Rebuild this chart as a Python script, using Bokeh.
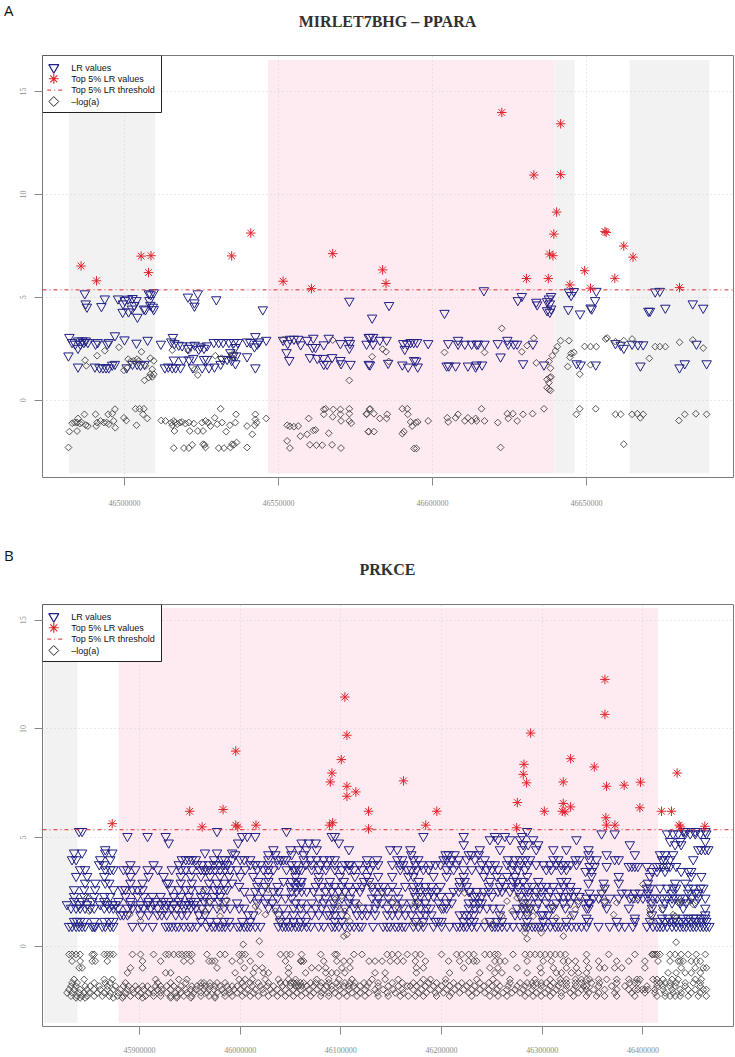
import numpy as np
from bokeh.plotting import figure
from bokeh.models import Span, FixedTicker, BasicTickFormatter, Range1d, Div
from bokeh.layouts import column
from bokeh.embed import file_html
from bokeh.resources import INLINE
from bokeh.core.properties import value

# ---------------------------------------------------------------- data (positions in kb)
# Panel A : MIRLET7BHG - PPARA
A_title = "MIRLET7BHG \u2013 PPARA"
A_xticks = [46500000, 46550000, 46600000, 46650000]
A_threshold = 5.36
A_grey_regions = [(46482.0, 46510.0), (46639.6, 46646.1), (46664.0, 46689.9)]
A_pink_regions = [(46546.6, 46639.6)]
A_shade_y = (-3.55, 16.53)

A_top = [(46485.9, 6.52), (46490.9, 5.80), (46505.4, 7.00), (46508.6, 7.02), (46507.8, 6.20),
         (46534.8, 7.01), (46541.0, 8.12), (46551.5, 5.78), (46560.7, 5.42), (46567.6, 7.12),
         (46583.8, 6.33), (46584.9, 5.67), (46622.5, 13.98), (46630.5, 5.91), (46632.9, 10.94),
         (46637.6, 5.91), (46638.0, 7.10), (46639.1, 7.02), (46639.4, 8.07), (46640.3, 9.14),
         (46641.6, 10.96), (46641.6, 13.43), (46644.6, 5.60), (46649.4, 6.29), (46651.3, 5.44),
         (46656.0, 8.20), (46656.4, 8.15), (46659.2, 5.92), (46662.1, 7.49), (46665.1, 6.95),
         (46680.2, 5.47)]

A_lr = [
    # upper values
    (46487.1, 5.18), (46487.4, 4.69), (46487.8, 4.53), (46492.5, 4.56), (46493.6, 4.93),
    (46497.9, 4.93), (46499.5, 4.69), (46500.1, 4.85), (46501.1, 4.92), (46502.6, 4.95),
    (46503.9, 4.85), (46499.4, 4.28), (46501.3, 4.30), (46502.4, 4.44), (46503.2, 4.61),
    (46504.2, 4.04), (46506.3, 4.44), (46506.8, 4.40), (46507.9, 5.18), (46508.5, 5.13),
    (46509.5, 5.23), (46508.1, 4.85), (46508.4, 4.62), (46509.2, 4.53), (46509.5, 4.41),
    (46520.6, 5.02), (46523.8, 5.18), (46522.7, 4.74), (46522.7, 4.58), (46529.8, 4.89),
    (46544.9, 4.40), (46573.0, 4.82), (46580.4, 4.00), (46585.9, 4.61), (46603.9, 4.23),
    (46616.7, 5.33), (46627.7, 4.85), (46629.0, 5.05), (46633.7, 4.77), (46634.0, 4.64),
    (46637.2, 4.80), (46637.8, 4.93), (46638.5, 5.05), (46638.1, 4.69), (46637.2, 4.36),
    (46638.1, 4.28), (46638.5, 4.44), (46644.1, 4.41), (46644.3, 5.26), (46645.0, 5.10),
    (46645.9, 5.29), (46647.9, 4.20), (46651.3, 4.49), (46651.7, 4.44), (46652.8, 4.85),
    (46653.2, 5.30), (46670.1, 4.33), (46670.6, 4.33), (46672.3, 5.27), (46673.8, 5.30),
    (46675.6, 4.48), (46684.5, 4.69), (46687.9, 4.48),
    # middle band
    (46482.1, 3.06), (46483.0, 2.81), (46484.0, 2.73), (46485.0, 2.89), (46484.9, 2.53),
    (46485.7, 2.73), (46486.3, 2.89), (46486.8, 2.81), (46487.4, 2.89), (46488.1, 2.81),
    (46490.6, 2.73), (46491.3, 2.81), (46494.4, 2.73), (46494.9, 2.81), (46496.9, 3.14),
    (46500.0, 2.94), (46503.9, 2.78), (46507.5, 2.92), (46481.8, 2.16),
    (46511.8, 2.73), (46515.7, 3.06), (46515.2, 2.84), (46516.2, 2.76), (46517.6, 2.68),
    (46518.7, 2.65), (46520.6, 2.53), (46521.4, 2.65), (46522.8, 2.68), (46524.1, 2.48),
    (46524.7, 2.60), (46525.8, 2.53), (46526.8, 2.65), (46529.0, 2.81), (46530.6, 2.81),
    (46532.0, 2.81), (46533.9, 2.81), (46535.5, 2.81), (46536.8, 2.81), (46536.0, 2.57),
    (46534.4, 2.32), (46539.8, 2.84), (46540.9, 2.81), (46542.5, 3.10), (46543.1, 2.73),
    (46542.2, 2.60), (46543.7, 2.84), (46546.0, 2.92), (46539.8, 2.12), (46536.3, 2.16),
    (46535.3, 2.16), (46534.8, 1.94),
    (46551.5, 2.92), (46553.0, 2.76), (46553.7, 2.97), (46555.0, 2.97), (46556.4, 2.97),
    (46557.2, 2.70), (46559.3, 2.92), (46561.3, 3.02), (46561.0, 2.57), (46562.0, 2.57),
    (46564.7, 2.70), (46566.3, 3.02), (46570.1, 2.76), (46572.8, 2.92), (46573.2, 2.76),
    (46573.0, 2.53), (46578.6, 2.73), (46579.3, 3.06), (46552.6, 2.32), (46553.5, 1.94),
    (46579.7, 3.06), (46580.7, 3.06), (46580.7, 2.73), (46582.9, 2.92), (46585.1, 2.92),
    (46590.5, 2.76), (46591.0, 2.48), (46591.8, 2.73), (46592.9, 2.81), (46593.9, 2.81),
    (46595.0, 2.81), (46598.6, 2.76), (46605.1, 2.76), (46608.3, 2.92), (46608.3, 2.73),
    (46610.5, 2.73), (46612.7, 2.73), (46614.3, 2.73), (46614.8, 2.73), (46616.9, 2.73),
    (46621.2, 2.76), (46622.1, 2.11), (46624.3, 2.92), (46624.6, 2.73), (46626.4, 2.73),
    (46627.5, 2.73), (46632.6, 2.73), (46659.4, 2.76), (46661.1, 2.68), (46662.1, 2.53),
    (46664.8, 2.73), (46666.7, 2.70), (46668.4, 2.70), (46685.7, 2.73),
    # lower band
    (46484.9, 1.62), (46490.4, 1.62), (46491.9, 1.58), (46493.0, 1.58), (46494.0, 1.58),
    (46494.9, 1.58), (46496.0, 1.71), (46496.9, 1.75), (46500.7, 1.58), (46502.6, 1.75),
    (46504.1, 1.75), (46505.2, 1.71), (46506.5, 1.75),
    (46513.1, 1.58), (46514.2, 1.62), (46515.5, 1.58), (46516.6, 1.58), (46518.2, 1.58),
    (46516.0, 1.96), (46519.1, 1.96), (46521.0, 1.96), (46522.3, 2.04), (46522.2, 1.58),
    (46525.2, 1.58), (46525.8, 1.99), (46526.8, 1.99), (46527.4, 1.58), (46529.2, 1.62),
    (46531.2, 1.75), (46531.7, 1.99), (46533.3, 1.99), (46536.0, 1.78), (46542.5, 1.58),
    (46560.2, 2.08), (46562.6, 2.04), (46564.5, 2.04), (46567.4, 2.08), (46564.7, 1.75),
    (46565.8, 1.75), (46570.1, 1.94), (46570.3, 1.78), (46573.4, 1.75), (46579.3, 1.75),
    (46579.7, 1.72), (46585.6, 1.80), (46590.2, 1.72), (46592.1, 1.62), (46594.0, 1.94),
    (46594.7, 1.91), (46595.2, 1.62), (46604.6, 1.67), (46605.3, 1.67), (46607.5, 1.67),
    (46611.5, 1.67), (46614.0, 1.62), (46614.3, 1.72), (46616.1, 1.72), (46629.4, 1.78),
    (46636.2, 1.72), (46646.8, 1.78), (46648.1, 1.72), (46653.0, 1.72), (46667.5, 1.67),
    (46680.2, 1.58), (46681.9, 1.78), (46689.0, 1.78)]

A_loga = [
    (46487.2, 1.94), (46487.6, 1.67), (46491.1, 2.16), (46493.6, 2.40), (46498.2, 2.57),
    (46501.2, 1.99), (46502.0, 1.88), (46499.8, 1.45), (46500.9, 1.58), (46503.0, 1.91),
    (46504.1, 1.99), (46504.7, 1.91), (46505.5, 2.35), (46506.8, 1.67), (46508.4, 2.04),
    (46509.5, 1.91), (46509.0, 1.50), (46508.4, 1.26), (46507.9, 1.10), (46506.5, 0.96),
    (46509.5, 1.26), (46509.0, 1.13), (46515.5, 2.43), (46520.7, 2.40), (46522.8, 1.50),
    (46523.8, 1.22), (46529.5, 2.16), (46531.5, 2.04), (46534.6, 2.11), (46535.2, 2.24),
    (46551.5, 2.94), (46573.0, 0.96), (46567.6, 2.92),
    (46583.8, 2.48), (46584.9, 2.35), (46580.4, 2.11), (46585.8, 1.88), (46603.9, 2.32),
    (46616.9, 2.32), (46622.5, 3.49), (46629.0, 2.35), (46630.7, 2.65), (46632.9, 3.01),
    (46633.7, 1.81), (46637.8, 1.88), (46638.3, 1.55), (46638.9, 2.16), (46639.9, 2.40),
    (46640.5, 2.60), (46641.6, 2.89), (46644.3, 2.89), (46645.0, 2.27), (46645.9, 2.32),
    (46644.6, 2.08), (46643.9, 1.63), (46647.8, 1.26), (46649.4, 2.61), (46651.3, 2.60),
    (46653.2, 2.60), (46651.3, 1.72), (46656.2, 2.97), (46656.7, 3.02), (46659.4, 2.84),
    (46662.1, 2.89), (46664.8, 2.97), (46670.4, 2.03), (46672.3, 2.60), (46673.8, 2.60),
    (46675.6, 2.60), (46680.2, 2.81), (46684.5, 2.92), (46687.9, 2.53), (46637.2, 1.01),
    (46638.1, 1.10), (46638.5, 1.13), (46637.2, 0.60), (46637.8, 0.52), (46638.3, 0.47),
    (46637.8, 0.85),
    (46481.8, -2.30), (46482.1, -1.53), (46483.0, -1.12), (46483.8, -1.09), (46484.6, -1.09),
    (46484.9, -0.89), (46485.5, -1.14), (46486.1, -1.09), (46487.0, -0.69), (46487.4, -1.21),
    (46488.1, -1.26), (46484.6, -1.50), (46490.6, -0.69), (46491.1, -1.09), (46490.8, -1.26),
    (46492.2, -1.01), (46493.3, -1.09), (46494.2, -1.09), (46494.7, -0.69), (46494.9, -1.17),
    (46496.0, -0.66), (46496.5, -1.01), (46496.9, -0.44), (46497.0, -1.34), (46499.8, -0.86),
    (46500.6, -0.99), (46503.6, -0.42), (46504.9, -0.42), (46506.3, -0.42), (46506.0, -0.69),
    (46507.4, -0.89), (46503.9, -1.22),
    (46511.9, -0.99), (46513.3, -1.01), (46515.2, -1.09), (46515.5, -1.22), (46516.0, -1.01),
    (46516.5, -1.09), (46517.1, -1.17), (46518.0, -1.09), (46518.7, -1.06), (46516.2, -1.50),
    (46519.8, -1.14), (46520.9, -1.09), (46522.5, -1.14), (46521.2, -1.50), (46523.8, -1.50),
    (46525.5, -1.50), (46525.2, -1.09), (46526.3, -1.01), (46527.2, -1.09), (46527.9, -1.26),
    (46529.3, -0.86), (46531.2, -0.42), (46531.7, -1.09), (46530.1, -1.17), (46534.2, -1.22),
    (46536.0, -1.09), (46536.2, -0.69), (46533.0, -1.53), (46539.8, -1.26), (46541.5, -1.66),
    (46542.5, -0.69), (46542.5, -0.94), (46542.3, -1.22), (46542.9, -1.09), (46546.0, -0.89),
    (46516.0, -2.33), (46519.3, -2.33), (46520.9, -2.33), (46522.0, -2.17), (46525.5, -2.14),
    (46526.3, -2.30), (46526.0, -2.17), (46530.6, -2.33), (46532.3, -2.33), (46534.4, -2.30),
    (46535.5, -2.17), (46536.4, -2.06), (46534.9, -2.14), (46539.8, -2.30),
    (46552.8, -1.22), (46553.7, -1.27), (46555.0, -1.29), (46556.4, -1.26), (46552.8, -1.98),
    (46553.7, -2.33), (46557.1, -1.75), (46559.3, -1.66), (46561.3, -1.47), (46562.0, -1.45),
    (46559.8, -0.89), (46560.2, -2.17), (46562.3, -2.19), (46564.2, -2.19), (46564.7, -0.45),
    (46565.3, -0.42), (46564.7, -0.69), (46566.3, -1.61), (46567.6, -0.81), (46567.8, -0.45),
    (46567.4, -2.17), (46570.1, -0.45), (46570.1, -0.69), (46570.3, -1.01), (46570.3, -2.33),
    (46573.0, -0.42), (46573.0, -0.66), (46573.0, -1.01), (46573.6, -1.12), (46578.6, -0.69),
    (46579.2, -1.53), (46579.6, -0.45),
    (46578.6, -0.66), (46579.7, -0.42), (46581.0, -0.66), (46582.9, -0.89), (46585.3, -0.69),
    (46585.1, -0.89), (46579.3, -1.53), (46581.0, -1.53), (46590.2, -0.42), (46591.8, -0.42),
    (46592.0, -0.69), (46592.9, -1.06), (46593.4, -1.26), (46594.5, -1.09), (46595.2, -1.06),
    (46594.0, -2.35), (46594.8, -2.35), (46590.7, -1.53), (46590.2, -1.63), (46598.6, -1.01),
    (46604.8, -0.86), (46605.1, -1.06), (46607.5, -0.86), (46608.3, -0.69), (46610.5, -1.01),
    (46611.5, -0.86), (46612.7, -1.01), (46614.0, -0.89), (46614.3, -1.01), (46615.9, -0.42),
    (46616.9, -1.01), (46621.2, -1.09), (46622.1, -2.30), (46624.3, -0.66), (46624.6, -0.89),
    (46626.1, -0.66), (46627.5, -1.01), (46629.4, -0.69), (46632.5, -0.66), (46636.2, -0.42),
    (46646.7, -0.69), (46647.8, -0.42), (46653.0, -0.42), (46659.4, -0.69), (46661.1, -0.69),
    (46662.1, -2.14), (46664.8, -0.69), (46666.5, -0.66), (46667.5, -0.86), (46668.4, -0.69),
    (46680.0, -0.99), (46681.9, -0.69), (46685.5, -0.66), (46689.0, -0.69)]

# Panel B : PRKCE
B_title = "PRKCE"
B_xticks = [45900000, 46000000, 46100000, 46200000, 46300000, 46400000]
B_threshold = 5.36
B_grey_regions = [(45805.0, 45838.4)]
B_pink_regions = [(45879.2, 46414.9)]
B_shade_y = (-3.53, 15.57)

B_top = [(45995.6, 8.98), (46104.0, 11.47), (46106.0, 9.71), (46100.4, 8.59), (46091.1, 7.97),
         (46362.3, 12.28), (46362.3, 10.67), (46288.5, 9.81), (46328.2, 8.63), (46281.9, 8.37),
         (46351.7, 8.25), (46281.2, 7.91), (46434.0, 7.97), (46162.2, 7.61), (46284.5, 7.52),
         (46320.9, 7.56), (46363.9, 7.36), (46381.4, 7.41), (46397.6, 7.55), (46127.5, 6.21),
         (46195.3, 6.21), (46275.3, 6.61), (46302.1, 6.21), (46320.9, 6.57), (46328.2, 6.41),
         (46322.6, 6.18), (46319.9, 6.21), (46397.0, 6.37), (46418.5, 6.21), (46428.4, 6.21),
         (46127.5, 5.40), (46184.3, 5.57), (46274.6, 5.45), (46363.2, 5.91), (46363.9, 5.57),
         (46372.2, 5.57), (46436.0, 5.57), (46437.3, 5.49), (46461.5, 5.52), (46089.5, 7.56),
         (46106.0, 7.36), (46106.0, 6.90), (46114.9, 7.10), (45872.9, 5.64), (45949.9, 6.21),
         (45962.2, 5.49), (45983.0, 6.29), (45995.6, 5.57), (45997.6, 5.49), (46015.7, 5.57),
         (46088.8, 5.57), (46091.8, 5.68)]

B_lr_levels = [0.92, 1.15, 1.30, 1.45, 1.76, 1.92, 2.00, 2.07, 2.22, 2.30, 2.45, 2.53, 2.61,
               2.68, 2.76, 2.91, 2.99, 3.22, 3.45, 3.53, 3.68, 3.76, 3.99, 4.22, 4.30, 4.45,
               4.68, 4.76, 4.83, 4.91, 5.06, 5.18, 5.29]
B_lr_rows = [
    [45830, 45833, 45837, 45840, 45843, 45846, 45853, 45855, 45856, 45863, 45866, 45871, 45874,
     45893, 45903, 45913, 45926, 45929, 45932, 45936, 45939, 45944, 45949, 45952, 45957, 45967,
     45972, 45975, 45979, 45982, 45985, 45990, 45997, 46000, 46004, 46007, 46010, 46015, 46020,
     46038, 46042, 46045, 46048, 46051, 46055, 46058, 46061, 46066, 46070, 46078, 46083, 46091,
     46094, 46098, 46104, 46109, 46113, 46118, 46121, 46132, 46142, 46146, 46149, 46154, 46157,
     46161, 46164, 46172, 46177, 46182, 46192, 46200, 46208, 46215, 46218, 46222, 46225, 46230,
     46235, 46243, 46250, 46253, 46256, 46260, 46265, 46271, 46278, 46283, 46286, 46290, 46293,
     46296, 46299, 46303, 46308, 46313, 46316, 46319, 46324, 46329, 46334, 46339, 46344, 46356,
     46367, 46376, 46382, 46390, 46404, 46410, 46414, 46417, 46420, 46424, 46429, 46433, 46437,
     46440, 46443, 46447, 46450, 46453, 46457, 46460, 46463, 46466],
    [45835, 45838, 45841, 45845, 45855, 45865, 45870, 45874, 45961, 45970, 45977, 45984, 45989,
     46002, 46010, 46040, 46046, 46053, 46060, 46065, 46094, 46101, 46174, 46182, 46194, 46197,
     46200, 46222, 46228, 46232, 46248, 46255, 46260, 46285, 46301, 46311, 46324, 46346, 46374,
     46392, 46407, 46417, 46422, 46427, 46430, 46433, 46438, 46443, 46448, 46453, 46458, 46463],
    [46344, 46392, 46419, 46425, 46432, 46440, 46445, 46450, 46453, 46458, 46462],
    [45881, 45884, 45888, 45901, 45909, 45918, 45922, 45927, 45936, 45942, 45947, 45959, 45965,
     46008, 46013, 46038, 46045, 46053, 46061, 46071, 46078, 46086, 46089, 46094, 46101, 46116,
     46121, 46126, 46134, 46146, 46151, 46157, 46164, 46170, 46179, 46184, 46190, 46218, 46223,
     46227, 46232, 46258, 46273, 46278, 46285, 46299, 46301, 46306, 46331, 46409, 46462],
    [45832, 45837, 45841, 45846, 45851, 45855, 45865, 45870, 45874, 45879, 45888, 45893, 45899,
     45904, 45911, 45918, 45926, 45932, 45937, 45944, 45951, 45956, 45962, 45969, 45977, 45984,
     45990, 45999, 46004, 46028, 46035, 46043, 46053, 46060, 46066, 46075, 46081, 46091, 46094,
     46104, 46113, 46121, 46128, 46134, 46146, 46154, 46162, 46172, 46179, 46185, 46189, 46200,
     46202, 46205, 46227, 46233, 46238, 46245, 46251, 46258, 46275, 46281, 46285, 46288, 46294,
     46308, 46311, 46323, 46344, 46346, 46364, 46386, 46409, 46420, 46440, 46462],
    [45828, 45840, 45848, 45861, 45868, 45873, 45876, 45891, 45901, 45908, 45914, 45922, 45927,
     45934, 45942, 45946, 45949, 45954],
    [45997, 46017, 46025, 46032, 46055, 46061, 46071, 46083, 46093, 46108, 46114, 46136, 46141,
     46151, 46161, 46170, 46177, 46184, 46197, 46205, 46210, 46227, 46232, 46237, 46240, 46281,
     46286, 46296, 46304, 46314, 46321, 46328, 46336, 46346, 46347, 46362, 46409, 46422, 46429,
     46437, 46443, 46452],
    [45835, 45843, 45853, 45865, 45879, 45891, 45909, 45916, 45924, 45929, 45939, 45951, 45956,
     45964, 45970, 45979, 45985],
    [46010, 46018, 46027, 46037, 46045, 46051, 46078, 46085, 46094, 46101, 46109, 46131, 46137,
     46147, 46157, 46344, 46351, 46356, 46367, 46376, 46387, 46390, 46395, 46400, 46405, 46410,
     46414, 46419, 46424, 46429, 46432, 46437, 46442, 46448, 46455, 46462],
    [45835, 45845, 45855, 45865, 45871, 45886, 45898, 45904, 45913, 45921, 45934, 45941, 45949,
     45961, 45965, 45974, 45980, 46174, 46179, 46187, 46192, 46199, 46208, 46232, 46235, 46240,
     46250, 46278, 46286, 46293, 46299, 46306, 46316, 46321, 46326, 46331, 46337],
    [46347, 46359, 46379, 46384, 46392, 46397, 46405, 46429, 46445, 46452, 46455],
    [46004, 46015, 46022, 46033, 46038, 46051, 46056, 46061, 46066, 46073, 46085, 46091, 46098,
     46104, 46111, 46119, 46132, 46141, 46146, 46156, 46172, 46179, 46184, 46190, 46195, 46212,
     46217, 46227, 46228, 46235, 46242, 46247, 46256, 46260, 46268, 46276, 46283, 46286, 46294,
     46299, 46308, 46318, 46328, 46334],
    [45835, 45845, 45856, 45874, 45883, 45886, 45893, 45898, 45903, 45931, 45939, 45946, 45951,
     45959, 45967, 45975, 45979, 45984, 45987],
    [46362, 46404, 46407, 46417, 46424, 46430, 46433, 46445, 46450, 46457, 46460],
    [45999, 46017, 46025, 46037, 46050, 46055, 46060, 46075, 46081, 46088, 46094, 46101, 46108,
     46116, 46121, 46131, 46137, 46142, 46151, 46164, 46172, 46177, 46184, 46190, 46199, 46218,
     46225, 46247, 46258, 46263, 46270, 46276, 46285, 46290, 46299, 46304, 46311, 46321, 46328],
    [45846, 45856, 45866, 45870, 45891, 45903, 45927, 45929, 45941, 45952, 45969, 45977, 45984,
     45992, 46346, 46361, 46376, 46405, 46432, 46442],
    [46018, 46028, 46043, 46051, 46056, 46060, 46061, 46078, 46089, 46103, 46123, 46128, 46177,
     46218, 46223, 46248, 46260, 46271, 46275, 46281, 46296, 46319, 46324],
    [45837, 45848, 45865, 45891, 45909, 45924, 45941, 45951, 45961, 45970, 45980, 45989, 46000,
     46013, 46028, 46055, 46078, 46099, 46114, 46126, 46137, 46151, 46167, 46172, 46192, 46205,
     46222, 46242, 46255, 46265, 46273, 46285, 46349, 46376, 46407, 46448, 46458],
    [46343, 46349, 46409, 46414, 46422, 46438, 46445, 46448],
    [45841, 45846, 45866, 45871, 45874, 45884, 45888, 45896, 45908, 45918, 45932, 45941, 45946,
     45952, 45961, 45964, 45967, 45970, 45975, 45980, 45985, 45990, 45997, 46005, 46017, 46023,
     46028, 46033, 46046, 46053, 46055, 46058, 46061, 46071, 46078, 46085, 46094, 46101, 46108,
     46113, 46121, 46129, 46159, 46166, 46170, 46175, 46182, 46187, 46205, 46212, 46222, 46230,
     46238, 46245, 46250, 46256, 46270, 46276, 46283, 46304, 46309, 46319, 46324],
    [46347, 46352, 46364, 46386, 46389, 46392, 46395, 46404, 46414, 46417, 46420, 46424, 46427,
     46433],
    [45860, 45865, 45891, 45914, 45939, 45957, 45962, 45969, 45974, 45979, 45984, 45987, 46010,
     46015, 46020, 46028, 46038, 46051, 46056, 46065, 46071, 46080, 46086, 46094, 46104, 46108,
     46109, 46118, 46126, 46132, 46137, 46151, 46159, 46162, 46174, 46180, 46189, 46194, 46199,
     46208, 46215, 46240, 46248, 46253, 46265, 46271, 46278, 46286, 46294, 46301, 46308, 46314,
     46319, 46323, 46328, 46334],
    [45833, 45837, 45861, 45871, 45942, 45946, 45949, 45952, 45956, 45974, 45982, 45985, 45992,
     46000, 46004, 46010, 46028, 46037, 46040, 46043, 46046, 46063, 46070, 46076, 46083, 46089,
     46094, 46126, 46136, 46156, 46161, 46172, 46177, 46202, 46205, 46210, 46217, 46225, 46233,
     46243, 46266, 46273, 46278, 46283, 46288, 46311, 46316, 46333, 46337, 46347, 46354, 46372,
     46376, 46419, 46422, 46427, 46450],
    [45995, 46028, 46035, 46051, 46063, 46170, 46204, 46207, 46213, 46227, 46230, 46237, 46346,
     46364, 46392, 46417, 46422, 46430],
    [45835, 45843, 45866, 45873, 45965, 45977, 45992],
    [45866, 46033, 46050, 46058, 46066, 46076, 46108, 46149, 46156, 46169, 46238, 46258, 46280,
     46294, 46311, 46324, 46346, 46455, 46458, 46462, 46465],
    [46222, 46281, 46286, 46296, 46387, 46432, 46438],
    [45929, 45998, 46061, 46068, 46075, 46098],
    [46427, 46437, 46462],
    [46248, 46256, 46268, 46278, 46291, 46334],
    [45888, 45908, 45926, 46002, 46007, 46015, 46091, 46094, 46182, 46222, 46253, 46263, 46280],
    [46359, 46372, 46424, 46430, 46435, 46442, 46447, 46452, 46457, 46463],
    [45840, 45843, 45977, 46046, 46285, 46440, 46442, 46452, 46462]]

B_loga_levels = [-0.38, -0.69, -1.00, -1.23, -1.53, -1.69, -1.84, -2.00, -2.15, -2.30, -2.38]
B_loga_rows = [
    [45830, 45833, 45837, 45841, 45853, 45855, 45865, 45868, 45871, 45874, 45893, 45901, 45914,
     45926, 45929, 45934, 45939, 45942, 45946, 45949, 45952, 45967, 45980, 45985, 45999, 46002,
     46005, 46020, 46040, 46046, 46050, 46061, 46080, 46094, 46096, 46113, 46121, 46146, 46151,
     46157, 46166, 46174, 46179, 46200, 46215, 46220, 46227, 46232, 46243, 46248, 46253, 46256,
     46271, 46283, 46288, 46293, 46298, 46303, 46308, 46313, 46318, 46323, 46344, 46366, 46392,
     46409, 46410, 46412, 46414, 46417, 46427, 46432, 46438, 46445, 46453, 46462],
    [45833, 45841, 45853, 45856, 45868, 45903, 45921, 45944, 45951, 45969, 45972, 45975, 45992,
     46000, 46010, 46045, 46060, 46061, 46063, 46083, 46096, 46103, 46109, 46128, 46134, 46141,
     46149, 46156, 46162, 46174, 46184, 46207, 46218, 46227, 46232, 46235, 46253, 46258, 46263,
     46285, 46301, 46309, 46321, 46326, 46333, 46344, 46356, 46374, 46386, 46402, 46415, 46427,
     46435, 46437, 46440, 46448, 46453, 46457],
    [45840, 45843, 45891, 45903, 45977, 46004, 46015, 46022, 46048, 46071, 46078, 46085, 46101,
     46109, 46175, 46182, 46222, 46248, 46256, 46275, 46298, 46311, 46324, 46334, 46346, 46357,
     46362, 46372, 46379, 46402, 46438, 46452, 46460, 46463],
    [45888, 45926, 45931, 45995, 46013, 46023, 46028, 46048, 46065, 46085, 46091, 46096, 46104,
     46134, 46144, 46175, 46208, 46238, 46253, 46260, 46285, 46299, 46314, 46319, 46329, 46336,
     46344, 46425, 46433, 46442, 46448, 46457],
    [45835, 45845, 45865, 45873, 45916, 45939, 45947, 45999, 46005, 46012, 46025, 46038, 46048,
     46055, 46076, 46088, 46098, 46111, 46131, 46144, 46157, 46182, 46189, 46204, 46235, 46251,
     46268, 46293, 46308, 46318, 46324, 46333, 46339, 46344, 46347, 46356, 46364, 46374, 46386,
     46394, 46397, 46410, 46414, 46420, 46429, 46435, 46452, 46458],
    [45833, 45838, 45855, 45866, 45871, 45886, 45918, 45931, 45946, 45961, 45964, 45970, 45977,
     45985, 46002, 46010, 46018, 46028, 46040, 46045, 46050, 46053, 46056, 46060, 46063, 46070,
     46075, 46081, 46088, 46096, 46104, 46109, 46114, 46123, 46128, 46137, 46151, 46161, 46172,
     46179, 46187, 46195, 46204, 46212, 46220, 46228, 46238, 46247, 46255, 46268, 46278, 46285,
     46290, 46294, 46299, 46304, 46311, 46318, 46324, 46333, 46339, 46349, 46357, 46374, 46387,
     46392, 46395, 46414, 46417, 46422, 46427, 46433, 46442, 46450, 46457],
    [45832, 45837, 45846, 45851, 45860, 45868, 45876, 45884, 45889, 45896, 45903, 45908, 45916,
     45921, 45927, 45934, 45941, 45952, 45957, 45961, 45965, 45970, 45975, 45980, 45987, 45992,
     45997, 46004, 46012, 46020, 46027, 46033, 46042, 46050, 46055, 46058, 46061, 46066, 46073,
     46080, 46086, 46091, 46098, 46103, 46108, 46113, 46119, 46126, 46137, 46147, 46157, 46166,
     46169, 46175, 46184, 46192, 46200, 46208, 46217, 46225, 46233, 46242, 46250, 46258, 46266,
     46275, 46283, 46291, 46299, 46308, 46316, 46324, 46333, 46341, 46344, 46356, 46369, 46382,
     46404, 46414, 46420, 46427, 46432, 46442, 46457],
    [45830, 45835, 45841, 45848, 45855, 45861, 45868, 45874, 45881, 45888, 45893, 45898, 45904,
     45911, 45918, 45922, 45931, 45939, 45946, 45951, 45956, 45964, 45969, 45974, 45982, 45989,
     45994, 46000, 46007, 46015, 46022, 46030, 46037, 46045, 46053, 46060, 46068, 46076, 46083,
     46091, 46099, 46108, 46116, 46124, 46134, 46142, 46152, 46161, 46172, 46180, 46189, 46197,
     46205, 46213, 46222, 46230, 46238, 46247, 46255, 46265, 46273, 46281, 46290, 46298, 46306,
     46314, 46323, 46331, 46339, 46344, 46351, 46362, 46374, 46386, 46392, 46395, 46399, 46402,
     46405, 46412, 46420, 46429, 46437, 46445, 46452, 46460, 46463],
    [45828, 45833, 45840, 45845, 45850, 45858, 45865, 45871, 45879, 45886, 45894, 45901, 45909,
     45914, 45921, 45927, 45936, 45941, 45947, 45954, 45961, 45967, 45977, 45984, 45990, 45997,
     46005, 46013, 46023, 46032, 46040, 46048, 46056, 46065, 46073, 46081, 46088, 46094, 46103,
     46111, 46119, 46128, 46136, 46146, 46154, 46162, 46177, 46185, 46194, 46202, 46210, 46218,
     46227, 46235, 46243, 46253, 46261, 46270, 46278, 46286, 46294, 46303, 46311, 46319, 46328,
     46336, 46346, 46356, 46372, 46389, 46402, 46412, 46422, 46430, 46438, 46448, 46457],
    [45832, 45838, 45843, 45848, 45855, 45863, 45870, 45878, 45884, 45891, 45899, 45906, 45914,
     45921, 45931, 45937, 45944, 45952, 45961, 45969, 45975, 45985, 45992, 46002, 46010, 46018,
     46028, 46037, 46045, 46053, 46061, 46070, 46080, 46088, 46098, 46106, 46116, 46124, 46137,
     46147, 46159, 46167, 46174, 46182, 46195, 46208, 46230, 46248, 46256, 46265, 46283, 46291,
     46299, 46308, 46319, 46331, 46344, 46354, 46362, 46374, 46392, 46414, 46422, 46427, 46432,
     46437, 46445, 46455, 46463],
    [45837, 45841, 45846, 45874, 45883, 45903, 45931, 45937, 45951, 45975]]

B_loga_upper = [
    (45848, 2.25), (45850, 1.61), (45901, 1.17), (45890, 1.45), (45964, 2.61), (45969, 2.02),
    (45980, 1.80), (45987, 2.12), (45980, 1.38), (45965, 1.61), (46003, 0.08), (46019, 0.23),
    (46028, 2.61), (46015, 1.84), (46018, 1.61), (46025, 1.45), (46035, 1.61), (46038, 1.23),
    (46094, 2.15), (46098, 1.84), (46101, 2.30), (46104, 1.61), (46106, 1.38), (46109, 1.15),
    (46103, 0.46), (46106, 0.54), (46118, 1.92), (46129, 2.84), (46141, 2.45), (46151, 2.00),
    (46157, 1.76), (46174, 2.00), (46175, 1.84), (46172, 1.07), (46180, 1.00), (46223, 2.45),
    (46243, 1.15), (46250, 1.00), (46260, 1.38), (46265, 2.07), (46270, 1.61), (46275, 2.22),
    (46280, 1.84), (46283, 2.00), (46285, 1.53), (46283, 0.92), (46283, 0.61), (46285, 0.34),
    (46288, 1.76), (46291, 1.38), (46299, 0.61), (46311, 1.84), (46314, 1.30), (46321, 0.46),
    (46328, 1.38), (46333, 1.69), (46336, 2.07), (46362, 2.68), (46359, 2.45), (46362, 2.07),
    (46371, 1.45), (46374, 2.00), (46392, 2.15), (46400, 2.84), (46407, 1.45), (46409, 1.15),
    (46407, 1.68), (46419, 1.68), (46430, 1.45), (46432, 1.38), (46433, 0.18), (46435, 2.00),
    (46438, 2.07), (46447, 2.07), (46450, 1.92)]

LEGEND_LABELS = ["LR values", "Top 5% LR values", "Top 5% LR threshold", "\u2013log(a)"]

# ---------------------------------------------------------------- styling
NAVY = "#1f1f85"
RED = "#e0242c"
DGREY = "#444444"
PINK = "#fdebf1"
LGREY = "#f2f2f2"
AXIS_GREY = "#8a8a8a"
PAGE_W = 735
FRAME_W, FRAME_H = 691, 422


def pairs_to_xy(pairs):
    return [p[0] * 1000 for p in pairs], [p[1] for p in pairs]


def rows_to_xy(levels, rows):
    xs, ys = [], []
    for lv, row in zip(levels, rows):
        for v in row:
            xs.append(v * 1000)
            ys.append(lv)
    return xs, ys


def header(letter, title, height, letter_top, title_top):
    html = (
        f'<div style="position:relative;width:{PAGE_W}px;height:{height}px;margin:0;padding:0;">'
        f'<div style="position:absolute;left:4px;top:{letter_top}px;font-family:\'Open Sans\';'
        f'font-size:15px;line-height:17px;color:#111;">{letter}</div>'
        f'<div style="position:absolute;left:42px;width:{FRAME_W}px;top:{title_top}px;'
        f'text-align:center;font-family:\'Liberation Serif\';font-weight:bold;font-size:16px;'
        f'line-height:16px;color:#303030;white-space:nowrap;">{title}</div></div>')
    return Div(text=html, width=PAGE_W, height=height, margin=0)


def make_panel(xr, yr, xticks, greys, pinks, shade_y, lr_xy, top_xy, loga_xy, thr,
               height, bottom_b, x_standoff):
    p = figure(width=PAGE_W, height=height, x_range=Range1d(*xr), y_range=Range1d(*yr),
               output_backend="svg", toolbar_location=None, title=None,
               min_border_left=42, min_border_right=PAGE_W - 42 - FRAME_W,
               min_border_top=5, min_border_bottom=bottom_b)
    p.outline_line_color = "#7a7a7a"
    p.outline_line_width = 1
    p.background_fill_color = "white"
    p.border_fill_color = "white"

    # shaded gene regions
    p.quad(left=[g[0] * 1000 for g in greys], right=[g[1] * 1000 for g in greys],
           bottom=shade_y[0], top=shade_y[1], fill_color=LGREY, line_color=None, level="image")
    p.quad(left=[g[0] * 1000 for g in pinks], right=[g[1] * 1000 for g in pinks],
           bottom=shade_y[0], top=shade_y[1], fill_color=PINK, line_color=None, level="image")

    # axes
    p.xaxis.ticker = FixedTicker(ticks=xticks)
    p.xaxis.formatter = BasicTickFormatter(use_scientific=False)
    p.yaxis.ticker = FixedTicker(ticks=[0, 5, 10, 15])
    for ax in (p.xaxis, p.yaxis):
        ax.axis_line_color = None
        ax.major_tick_line_color = AXIS_GREY
        ax.major_tick_out = 8
        ax.major_tick_in = 0
        ax.minor_tick_line_color = None
        ax.major_label_text_font = "Liberation Serif"
        ax.major_label_text_font_size = "8px"
        ax.major_label_text_color = AXIS_GREY
    p.xaxis.major_label_standoff = x_standoff
    p.yaxis.major_label_standoff = 8
    p.yaxis.major_label_orientation = "vertical"

    for g in (p.xgrid, p.ygrid):
        g.grid_line_color = "#d4d4d4"
        g.grid_line_dash = "1 3"
        g.grid_line_width = 1
    p.xgrid.ticker = FixedTicker(ticks=xticks)
    p.ygrid.ticker = FixedTicker(ticks=[0, 5, 10, 15])

    # data
    p.scatter(lr_xy[0], lr_xy[1], marker="inverted_triangle", size=9.5, fill_color=None,
              line_color=NAVY, line_width=1)
    p.scatter(loga_xy[0], loga_xy[1], marker="square", angle=np.pi / 4, size=4.8,
              fill_color=None, line_color=DGREY, line_width=0.9)
    p.scatter(top_xy[0], top_xy[1], marker="asterisk", size=9.5, line_color=RED,
              line_width=1)
    p.add_layout(Span(location=thr, dimension="width", line_color=RED, line_width=1,
                      line_dash="4 3 1 3"))

    # legend box in the top-left corner of the frame (offsets in frame pixels)
    def fx(px):
        return xr[0] + px * (xr[1] - xr[0]) / FRAME_W

    def fy(py):
        return yr[1] - py * (yr[1] - yr[0]) / FRAME_H

    rows = [12, 23.3, 34.6, 46]
    p.quad(left=[fx(0)], right=[fx(119)], top=[fy(0)], bottom=[fy(57)], fill_color="white",
           line_color="#222222", line_width=1)
    p.scatter([fx(11.3)], [fy(rows[0])], marker="inverted_triangle", size=10,
              fill_color=None, line_color=NAVY, line_width=1.2)
    p.scatter([fx(11.3)], [fy(rows[1])], marker="asterisk", size=10, line_color=RED,
              line_width=1.1)
    p.line([fx(4.7), fx(21.3)], [fy(rows[2]), fy(rows[2])], line_color=RED, line_width=1,
           line_dash="4 3 1 3")
    p.scatter([fx(11.3)], [fy(rows[3])], marker="square", angle=np.pi / 4, size=7,
              fill_color=None, line_color="#222222", line_width=1)
    p.text(x=[fx(28.7)] * 4, y=[fy(r) for r in rows], text=LEGEND_LABELS,
           text_font=value("Liberation Sans"), text_font_size=value("9px"),
           text_baseline="middle", text_align="left", text_color="#111111")
    return p


hA = header("A", A_title, 50, 2, 14)
pA = make_panel((46473377, 46697727), (-3.76, 16.75), A_xticks, A_grey_regions,
                A_pink_regions, A_shade_y, pairs_to_xy(A_lr), pairs_to_xy(A_top),
                pairs_to_xy(A_loga), A_threshold, height=467, bottom_b=40, x_standoff=14)

B_lr_xy = rows_to_xy(B_lr_levels, B_lr_rows)
B_lo_x, B_lo_y = rows_to_xy(B_loga_levels, B_loga_rows)
B_up_x, B_up_y = pairs_to_xy(B_loga_upper)
hB = header("B", B_title, 82, 30, 45)
pB = make_panel((45803646, 46490000), (-3.70, 15.73), B_xticks, B_grey_regions,
                B_pink_regions, B_shade_y, B_lr_xy, pairs_to_xy(B_top),
                (B_lo_x + B_up_x, B_lo_y + B_up_y), B_threshold, height=458, bottom_b=31,
                x_standoff=12)

layout = column(hA, pA, hB, pB, spacing=0)
open("out.html", "w").write(file_html(layout, INLINE))
